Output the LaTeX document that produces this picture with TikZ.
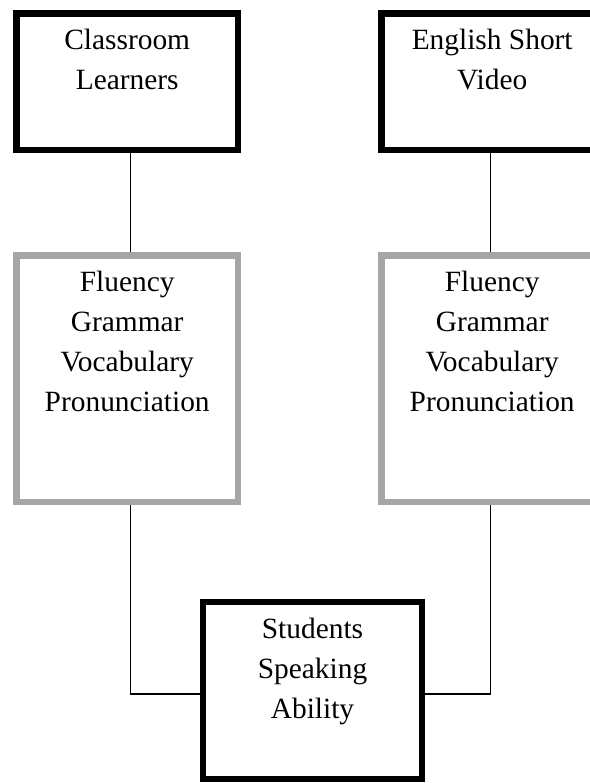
\documentclass[tikz,border=0pt]{standalone}
\usepackage{fontspec}
\setmainfont{Liberation Serif}
\usetikzlibrary{positioning}
\definecolor{ink}{HTML}{000000}
\definecolor{frame}{HTML}{A6A6A6}
\tikzset{
  box/.style={draw=ink,line width=6.7pt,minimum width=221.5pt,minimum height=136.7pt,inner sep=0pt},
  boxg/.style={box,draw=frame,minimum height=246.5pt},
  boxr/.style={box,minimum width=219pt,minimum height=177pt},
  txt/.style={align=center,inner sep=0pt,font=\fontsize{29.4pt}{40pt}\selectfont,text=ink},
  ln/.style={draw=ink,line width=1.4pt},
}
\begin{document}
\begin{tikzpicture}[x=1pt,y=-1pt]
  \useasboundingbox (0,0) rectangle (589,783);
  % ── the two sources ──
  \node[box] (learners) at (127.2,81.7) {};
  \node[box] (video) at (492.2,81.7) {};
  \node[txt,below=19pt of learners.north] (learnerstxt) {Classroom\\Learners};
  \node[txt,below=19pt of video.north] (videotxt) {English Short\\Video};

  % ── the four aspects, once per source ──
  \node[boxg] (aspectsl) at (127.2,378.7) {};
  \node[boxg] (aspectsr) at (492.2,378.7) {};
  \node[txt,below=19pt of aspectsl.north] (aspectsltxt) {Fluency\\Grammar\\Vocabulary\\Pronunciation};
  \node[txt,below=19pt of aspectsr.north] (aspectsrtxt) {Fluency\\Grammar\\Vocabulary\\Pronunciation};

  % ── the outcome ──
  \node[boxr] (ability) at (312.5,690.5) {};
  \node[txt,below=19pt of ability.north] (abilitytxt) {Students\\Speaking\\Ability};

  % connectors sit a little off the box centres, as in the source
  \draw[ln] ([xshift=3pt]learners.south) -- ([xshift=3pt]aspectsl.north);
  \draw[ln] ([xshift=-2pt]video.south) -- ([xshift=-2pt]aspectsr.north);
  \draw[ln] ([xshift=3pt]aspectsl.south) |- ([yshift=-3.5pt]ability.west);
  \draw[ln] ([xshift=-2pt]aspectsr.south) |- ([yshift=-3.5pt]ability.east);
\end{tikzpicture}
\end{document}
